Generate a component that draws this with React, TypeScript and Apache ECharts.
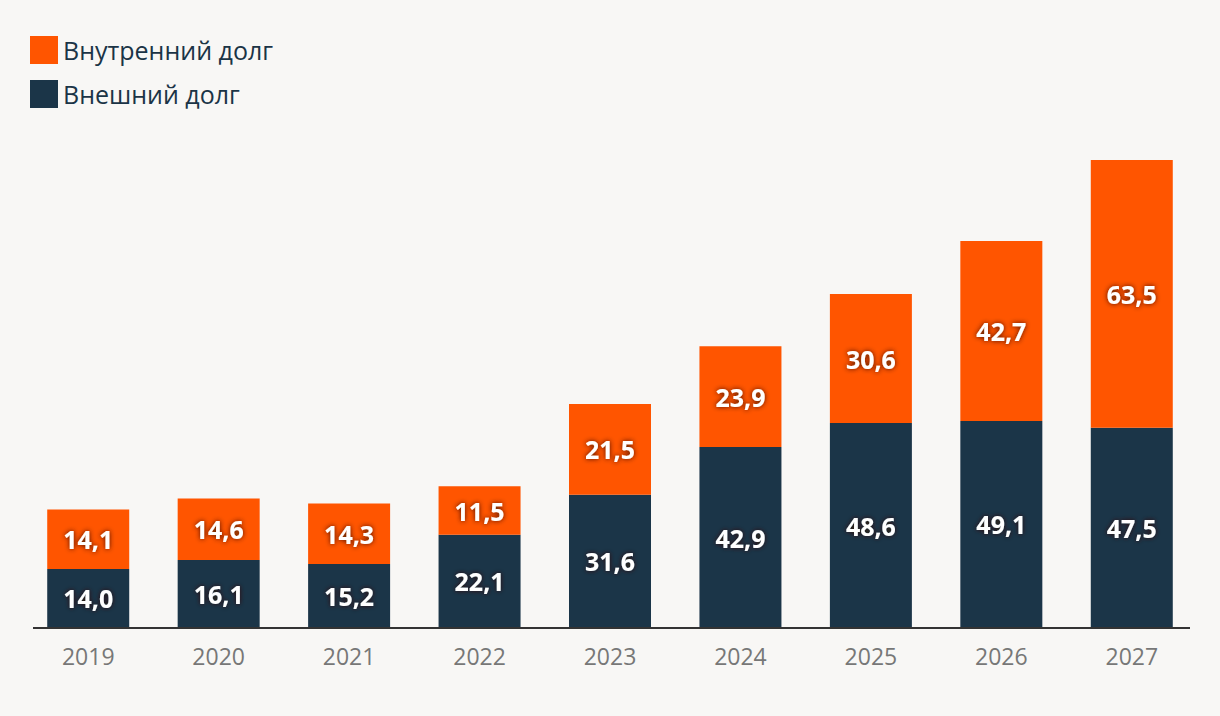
import React, { useEffect, useRef } from "react";
import * as echarts from "echarts";

const years = ["2019", "2020", "2021", "2022", "2023", "2024", "2025", "2026", "2027"];
const externalDebt = [14.0, 16.1, 15.2, 22.1, 31.6, 42.9, 48.6, 49.1, 47.5];
const internalDebt = [14.1, 14.6, 14.3, 11.5, 21.5, 23.9, 30.6, 42.7, 63.5];
const seriesNames = ["Внутренний долг", "Внешний долг"];

const fmt = (v: number) => v.toFixed(1).replace(".", ",");

export default function App() {
  const ref = useRef<HTMLDivElement>(null);
  useEffect(() => {
    if (!ref.current) return;
    const chart = echarts.init(ref.current, null, { renderer: "svg" });
    const labelStyle = {
      show: true,
      position: "inside" as const,
      color: "#ffffff",
      fontFamily: "Open Sans",
      fontWeight: "bold" as const,
      fontSize: 25,
      textShadowColor: "rgba(50,15,0,0.9)",
      textShadowBlur: 5,
      formatter: (p: any) => fmt(p.value),
    };
    chart.setOption({
      animation: false,
      backgroundColor: "#f8f7f5",
      textStyle: { fontFamily: "Open Sans" },
      legend: {
        orient: "vertical",
        left: 25,
        top: 31,
        itemWidth: 28,
        itemHeight: 28,
        itemGap: 16,
        icon: "rect",
        data: seriesNames,
        textStyle: { color: "#1b3446", fontSize: 25, fontFamily: "Open Sans" },
      },
      grid: { left: 23, right: 23, bottom: 88, top: 122 },
      graphic: [
        {
          type: "line",
          shape: { x1: 33, y1: 628, x2: 1190, y2: 628 },
          style: { stroke: "#333333", lineWidth: 2 },
          z: 10,
        },
      ],
      xAxis: {
        type: "category",
        data: years,
        axisLine: { show: false },
        axisTick: { show: false },
        axisLabel: { color: "#777777", fontSize: 23, margin: 16, fontFamily: "Open Sans" },
      },
      yAxis: {
        type: "value",
        min: 0,
        max: 120,
        show: false,
        splitLine: { show: false },
      },
      series: [
        {
          name: "Внешний долг",
          type: "bar",
          stack: "debt",
          data: externalDebt,
          barWidth: 82,
          itemStyle: { color: "#1b3548" },
          label: labelStyle,
        },
        {
          name: "Внутренний долг",
          type: "bar",
          stack: "debt",
          data: internalDebt,
          barWidth: 82,
          itemStyle: { color: "#ff5500" },
          label: labelStyle,
        },
      ],
    });
    return () => chart.dispose();
  }, []);
  return (
    <div
      ref={ref}
      style={{ position: "fixed", left: 0, top: 0, width: 1220, height: 716 }}
    />
  );
}
